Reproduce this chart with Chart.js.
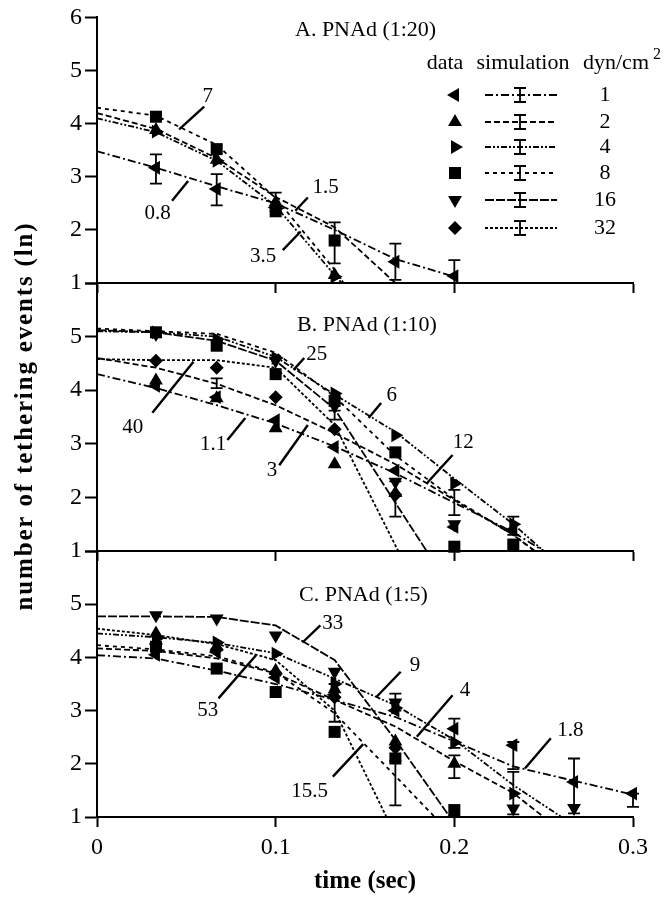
<!DOCTYPE html>
<html>
<head>
  <meta charset="utf-8">
  <title>Tethering events vs time</title>
  <script src="https://cdn.jsdelivr.net/npm/chart.js"></script>
  <style>
    body { margin: 0; background: #fff; }
    #wrap { position: relative; width: 666px; height: 899px; }
    #wrap canvas { position: absolute; left: 0; top: 0; }
  </style>
</head>
<body>
<div id="wrap">
  <canvas id="panelA" width="666" height="899"></canvas>
  <canvas id="panelB" width="666" height="899"></canvas>
  <canvas id="panelC" width="666" height="899"></canvas>
</div>
<script>
// ---- axes / legend values ----
const xTicks = [0, 0.1, 0.2, 0.3];
const yTicks = [1, 2, 3, 4, 5, 6];
const doses = [1, 2, 4, 8, 16, 32];           // dyn/cm2
const panelTitles = ['A. PNAd (1:20)', 'B. PNAd (1:10)', 'C. PNAd (1:5)'];

// ---- A. PNAd (1:20) : simulation [t, ln N], data [t, ln N], error bars [t, lo, hi] ----
const simA1 = [[0, 3.48], [0.033, 3.17], [0.067, 2.82], [0.1, 2.5], [0.133, 2.0], [0.167, 1.45], [0.2, 1.12]];
const simA2 = [[0, 4.2], [0.033, 3.9], [0.067, 3.35], [0.1, 2.62], [0.133, 2.05], [0.167, 1.0]];
const simA4 = [[0, 4.1], [0.033, 3.84], [0.067, 3.3], [0.1, 2.45], [0.133, 1.15], [0.137, 1.0]];
const simA8 = [[0, 4.3], [0.033, 4.15], [0.067, 3.6], [0.1, 2.6], [0.133, 1.25], [0.138, 1.0]];
const dataA1 = [[0.033, 3.17], [0.067, 2.77], [0.1, 2.42], [0.167, 1.4], [0.2, 1.13]];
const dataA2 = [[0.033, 3.88], [0.067, 3.32], [0.1, 2.52], [0.133, 1.15]];
const dataA4 = [[0.033, 3.85], [0.067, 3.3], [0.1, 2.4], [0.133, 1.12]];
const dataA8 = [[0.033, 4.13], [0.067, 3.52], [0.1, 2.35], [0.133, 1.8]];
const errA = [[0.033, 2.87, 3.42], [0.067, 2.46, 3.05], [0.1, 2.35, 2.7], [0.133, 1.37, 2.14], [0.167, 1.06, 1.74], [0.2, 1.0, 1.43]];
// label, line anchor (t, v), leader end (t, v), text centre (t, v)
const labelsA = [
  ['7', 0.046, 3.89, 0.060, 4.32, 0.062, 4.51],
  ['0.8', 0.051, 2.92, 0.042, 2.55, 0.034, 2.31],
  ['1.5', 0.111, 2.36, 0.118, 2.61, 0.128, 2.79],
  ['3.5', 0.114, 1.97, 0.104, 1.62, 0.093, 1.49]
];

// ---- B. PNAd (1:10) ----
const simB1 = [[0, 4.3], [0.033, 4.04], [0.067, 3.72], [0.1, 3.38], [0.133, 2.95], [0.167, 2.45], [0.2, 1.9], [0.233, 1.35], [0.25, 1.0]];
const simB2 = [[0, 4.6], [0.033, 4.42], [0.067, 4.12], [0.1, 3.72], [0.133, 3.2], [0.167, 2.62], [0.2, 1.95], [0.233, 1.3], [0.245, 1.0]];
const simB4 = [[0, 5.1], [0.033, 5.08], [0.067, 5.0], [0.1, 4.62], [0.133, 3.92], [0.167, 3.22], [0.2, 2.35], [0.233, 1.5], [0.25, 1.0]];
const simB8 = [[0, 5.15], [0.033, 5.1], [0.067, 5.05], [0.1, 4.7], [0.133, 3.88], [0.167, 2.78], [0.2, 1.97], [0.233, 1.3], [0.245, 1.0]];
const simB16 = [[0, 5.12], [0.033, 5.08], [0.067, 4.92], [0.1, 4.55], [0.133, 3.65], [0.1845, 1.0]];
const simB32 = [[0, 4.58], [0.033, 4.56], [0.067, 4.56], [0.1, 4.42], [0.133, 3.35], [0.1686, 1.0]];
const dataB1 = [[0.033, 4.08], [0.067, 3.87], [0.1, 3.44], [0.133, 2.94], [0.167, 2.5], [0.2, 1.45], [0.233, 1.4]];
const dataB2 = [[0.033, 4.18], [0.067, 3.85], [0.1, 3.29], [0.133, 2.62], [0.167, 2.08]];
const dataB4 = [[0.033, 5.08], [0.067, 4.95], [0.1, 4.6], [0.133, 3.94], [0.167, 3.16], [0.2, 2.26], [0.233, 1.5]];
const dataB8 = [[0.033, 5.08], [0.067, 4.83], [0.1, 4.3], [0.133, 3.8], [0.167, 2.84], [0.2, 1.08], [0.233, 1.12]];
const dataB16 = [[0.033, 5.05], [0.067, 4.88], [0.1, 4.55], [0.133, 3.7], [0.167, 2.29], [0.2, 1.5]];
const dataB32 = [[0.033, 4.55], [0.067, 4.42], [0.1, 3.87], [0.133, 3.27], [0.167, 2.05]];
const errB = [[0.067, 4.04, 4.22], [0.133, 3.45, 3.62], [0.167, 1.64, 2.3], [0.2, 1.67, 2.14], [0.233, 1.3, 1.64]];
const labelsB = [
  ['40', 0.054, 4.53, 0.031, 3.58, 0.020, 3.31],
  ['1.1', 0.083, 3.48, 0.073, 3.07, 0.065, 2.98],
  ['3', 0.118, 3.35, 0.102, 2.60, 0.098, 2.51],
  ['25', 0.110, 4.38, 0.116, 4.60, 0.123, 4.66],
  ['6', 0.152, 3.48, 0.159, 3.76, 0.165, 3.91],
  ['12', 0.1845, 2.26, 0.199, 2.79, 0.205, 3.03]
];

// ---- C. PNAd (1:5) ----
const simC1 = [[0, 4.04], [0.033, 3.98], [0.067, 3.75], [0.1, 3.5], [0.133, 3.2], [0.167, 2.88], [0.2, 2.42], [0.233, 1.95], [0.267, 1.68], [0.3, 1.42]];
const simC2 = [[0, 4.17], [0.033, 4.12], [0.067, 3.98], [0.1, 3.7], [0.133, 3.2], [0.167, 2.7], [0.2, 2.05], [0.233, 1.45], [0.25, 1.0]];
const simC4 = [[0, 4.45], [0.033, 4.38], [0.067, 4.27], [0.1, 4.08], [0.133, 3.6], [0.167, 3.1], [0.2, 2.45], [0.233, 1.6], [0.26, 1.0]];
const simC8 = [[0, 4.23], [0.033, 4.15], [0.067, 4.02], [0.1, 3.72], [0.133, 2.95], [0.167, 1.77], [0.189, 1.0]];
const simC16 = [[0, 4.77], [0.033, 4.77], [0.067, 4.76], [0.1, 4.6], [0.133, 3.95], [0.167, 2.45], [0.1975, 1.0]];
const simC32 = [[0, 4.54], [0.033, 4.42], [0.067, 4.25], [0.1, 3.95], [0.133, 3.0], [0.162, 1.0]];
const dataC1 = [[0.033, 4.05], [0.067, 4.1], [0.1, 3.62], [0.133, 3.3], [0.167, 3.0], [0.2, 2.66], [0.233, 2.35], [0.267, 1.66], [0.3, 1.44]];
const dataC2 = [[0.033, 4.45], [0.067, 4.2], [0.1, 3.75], [0.133, 3.4], [0.167, 2.42], [0.2, 2.0]];
const dataC4 = [[0.033, 4.35], [0.067, 4.28], [0.1, 4.07], [0.133, 3.5], [0.167, 3.05], [0.2, 2.4], [0.233, 1.44]];
const dataC8 = [[0.033, 4.2], [0.067, 3.79], [0.1, 3.35], [0.133, 2.6], [0.167, 2.1], [0.2, 1.13]];
const dataC16 = [[0.033, 4.79], [0.067, 4.73], [0.1, 4.41], [0.133, 3.73], [0.167, 3.15], [0.233, 1.16], [0.267, 1.17]];
const dataC32 = [[0.033, 4.25], [0.067, 4.15], [0.1, 3.7], [0.133, 3.25], [0.167, 2.3]];
const errC = [[0.133, 2.79, 3.5], [0.167, 3.0, 3.32], [0.167, 1.22, 2.05], [0.2, 2.3, 2.85], [0.2, 1.73, 2.16],
              [0.233, 1.9, 2.41], [0.233, 1.05, 1.85], [0.267, 1.07, 2.1], [0.3, 1.19, 1.44]];
const labelsC = [
  ['33', 0.115, 4.28, 0.125, 4.60, 0.132, 4.63],
  ['9', 0.1565, 3.26, 0.170, 3.73, 0.178, 3.85],
  ['4', 0.179, 2.51, 0.199, 3.29, 0.206, 3.38],
  ['1.8', 0.2395, 1.91, 0.254, 2.48, 0.265, 2.63],
  ['53', 0.089, 4.04, 0.068, 3.23, 0.062, 3.01],
  ['15.5', 0.149, 2.37, 0.132, 1.76, 0.119, 1.48]
];

// ---- styles ----
const SERIF = "'Liberation Serif', 'Times New Roman', serif";
const markerStyle = {1: ['triangle', 270, 8], 2: ['triangle', 0, 8], 4: ['triangle', 90, 8],
                     8: ['rect', 0, 8.5], 16: ['triangle', 180, 8], 32: ['rectRot', 0, 7]};
const dashFor = {1: [8, 3, 2, 3], 2: [6, 3], 4: [6, 2, 2, 2, 2, 2], 8: [4, 4], 16: [9, 2], 32: [3, 2]};

function toXY(pairs) { return pairs.map(([x, y]) => ({x, y})); }

function drawMarker(ctx, dose, x, y) {
  const [style, rot, r] = markerStyle[dose];
  ctx.beginPath();
  if (style === 'rect') {
    const s = Math.SQRT1_2 * r;
    ctx.rect(x - s, y - s, 2 * s, 2 * s);
  } else if (style === 'rectRot') {
    ctx.moveTo(x - r, y); ctx.lineTo(x, y - r); ctx.lineTo(x + r, y); ctx.lineTo(x, y + r);
  } else {
    let a = rot * Math.PI / 180;
    for (let i = 0; i < 3; i++) {
      const px = x + Math.sin(a) * r, py = y - Math.cos(a) * r;
      i ? ctx.lineTo(px, py) : ctx.moveTo(px, py);
      a += 2 * Math.PI / 3;
    }
  }
  ctx.closePath();
  ctx.fill();
}

function panelDecor(p) {
  return {
    id: 'decor',
    afterDatasetsDraw(chart) {
      const {ctx, scales: {x, y}} = chart;
      ctx.save();
      ctx.strokeStyle = '#000';
      ctx.fillStyle = '#000';
      ctx.lineWidth = 1.8;
      p.errors.forEach(([t, lo, hi]) => {
        const px = x.getPixelForValue(t), y1 = y.getPixelForValue(lo), y2 = y.getPixelForValue(hi);
        ctx.beginPath();
        ctx.moveTo(px, y1); ctx.lineTo(px, y2);
        ctx.moveTo(px - 6, y1); ctx.lineTo(px + 6, y1);
        ctx.moveTo(px - 6, y2); ctx.lineTo(px + 6, y2);
        ctx.stroke();
      });
      ctx.font = `21px ${SERIF}`;
      ctx.textAlign = 'center';
      ctx.textBaseline = 'middle';
      ctx.lineWidth = 2.4;
      p.labels.forEach(([txt, t1, v1, t2, v2, t3, v3]) => {
        ctx.beginPath();
        ctx.moveTo(x.getPixelForValue(t1), y.getPixelForValue(v1));
        ctx.lineTo(x.getPixelForValue(t2), y.getPixelForValue(v2));
        ctx.stroke();
        ctx.fillText(txt, x.getPixelForValue(t3), y.getPixelForValue(v3));
      });
      ctx.font = `22px ${SERIF}`;
      ctx.textAlign = 'left';
      ctx.fillText(p.title, p.titleX, p.titleY);
      ctx.restore();
    }
  };
}

// legend table and shared y-axis title
const tablePlugin = {
  id: 'table',
  afterDraw(chart) {
    const ctx = chart.ctx;
    ctx.save();
    ctx.fillStyle = '#000';
    ctx.strokeStyle = '#000';
    ctx.font = `22px ${SERIF}`;
    ctx.textBaseline = 'middle';
    ctx.textAlign = 'center';
    ctx.fillText('data', 445, 63);
    ctx.fillText('simulation', 523, 63);
    ctx.textAlign = 'left';
    ctx.fillText('dyn/cm', 583, 63);
    ctx.font = `16px ${SERIF}`;
    ctx.fillText('2', 653, 55);
    const rows = [95, 122, 147, 173, 200, 228];
    doses.forEach((d, i) => {
      const yy = rows[i];
      drawMarker(ctx, d, 455, yy);
      ctx.lineWidth = 1.8;
      ctx.setLineDash(dashFor[d]);
      ctx.beginPath(); ctx.moveTo(485, yy); ctx.lineTo(557, yy); ctx.stroke();
      ctx.setLineDash([]);
      ctx.beginPath();
      ctx.moveTo(520, yy - 7); ctx.lineTo(520, yy + 7);
      ctx.moveTo(514, yy - 7); ctx.lineTo(526, yy - 7);
      ctx.moveTo(514, yy + 7); ctx.lineTo(526, yy + 7);
      ctx.stroke();
      ctx.font = `22px ${SERIF}`;
      ctx.textAlign = 'center';
      ctx.fillText(String(d), 605, yy);
    });
    // y title
    ctx.font = `bold 25px ${SERIF}`;
    ctx.textAlign = 'center';
    ctx.textBaseline = 'alphabetic';
    const yTitle = 'number of tethering events (ln)';
    const w = ctx.measureText(yTitle).width;
    if ('letterSpacing' in ctx) ctx.letterSpacing = Math.max(0, (387 - w) / 30).toFixed(2) + 'px';
    ctx.translate(32, 416);
    ctx.rotate(-Math.PI / 2);
    ctx.fillText(yTitle, 0, 0);
    ctx.restore();
  }
};

function makePanel(canvasId, p) {
  const datasets = [];
  p.series.forEach(([dose, sim, pts]) => {
    datasets.push({
      data: toXY(sim), showLine: true, borderColor: '#000', borderWidth: 1.8,
      borderDash: dashFor[dose], pointRadius: 0, fill: false
    });
    datasets.push({
      data: toXY(pts), showLine: false, pointStyle: markerStyle[dose][0],
      rotation: markerStyle[dose][1], pointRadius: markerStyle[dose][2],
      backgroundColor: '#000', borderColor: '#000', borderWidth: 0, clip: false
    });
  });
  const tickFont = {family: SERIF, size: 24};
  return new Chart(document.getElementById(canvasId), {
    type: 'scatter',
    data: {datasets},
    options: {
      responsive: false,
      animation: false,
      events: [],
      layout: {padding: {top: p.top, bottom: p.bottomPad, left: 0, right: 33}},
      plugins: {legend: {display: false}, tooltip: {enabled: false}},
      scales: {
        x: {
          type: 'linear', min: 0, max: 0.3,
          afterBuildTicks: s => { s.ticks = xTicks.map(v => ({value: v})); },
          afterFit: s => { s.height = p.xHeight; },
          ticks: {display: p.showX, font: tickFont, color: '#000', padding: 6, maxRotation: 0,
                  callback: v => String(Math.round(v * 10) / 10)},
          grid: {drawOnChartArea: false, drawTicks: true, tickLength: 10, tickColor: '#000', tickWidth: 2},
          border: {display: true, color: '#000', width: 2},
          title: {display: p.showX, text: 'time (sec)', color: '#000',
                  font: {family: SERIF, size: 25, weight: 'bold'}, padding: {top: 0, bottom: 2}}
        },
        y: {
          min: 1, max: 6,
          afterBuildTicks: s => { s.ticks = yTicks.map(v => ({value: v})); },
          afterFit: s => { s.width = 97; },
          ticks: {font: tickFont, color: '#000', padding: 3,
                  callback: v => (p.hideTop && v === 6) ? '' : String(v)},
          grid: {drawOnChartArea: false, drawTicks: true, tickLength: 12, tickColor: '#000', tickWidth: 2},
          border: {display: true, color: '#000', width: 2}
        }
      }
    },
    plugins: p.extra ? [panelDecor(p), p.extra] : [panelDecor(p)]
  });
}

makePanel('panelA', {
  title: panelTitles[0], titleX: 295, titleY: 30, top: 15, bottomPad: 604, xHeight: 12,
  showX: false, hideTop: false, errors: errA, labels: labelsA, extra: tablePlugin,
  series: [[1, simA1, dataA1], [2, simA2, dataA2], [4, simA4, dataA4], [8, simA8, dataA8]]
});
makePanel('panelB', {
  title: panelTitles[1], titleX: 297, titleY: 325, top: 283, bottomPad: 336, xHeight: 12,
  showX: false, hideTop: true, errors: errB, labels: labelsB,
  series: [[1, simB1, dataB1], [2, simB2, dataB2], [4, simB4, dataB4], [8, simB8, dataB8],
           [16, simB16, dataB16], [32, simB32, dataB32]]
});
makePanel('panelC', {
  title: panelTitles[2], titleX: 299, titleY: 595, top: 551, bottomPad: 0, xHeight: 82,
  showX: true, hideTop: true, errors: errC, labels: labelsC,
  series: [[1, simC1, dataC1], [2, simC2, dataC2], [4, simC4, dataC4], [8, simC8, dataC8],
           [16, simC16, dataC16], [32, simC32, dataC32]]
});
</script>
</body>
</html>
